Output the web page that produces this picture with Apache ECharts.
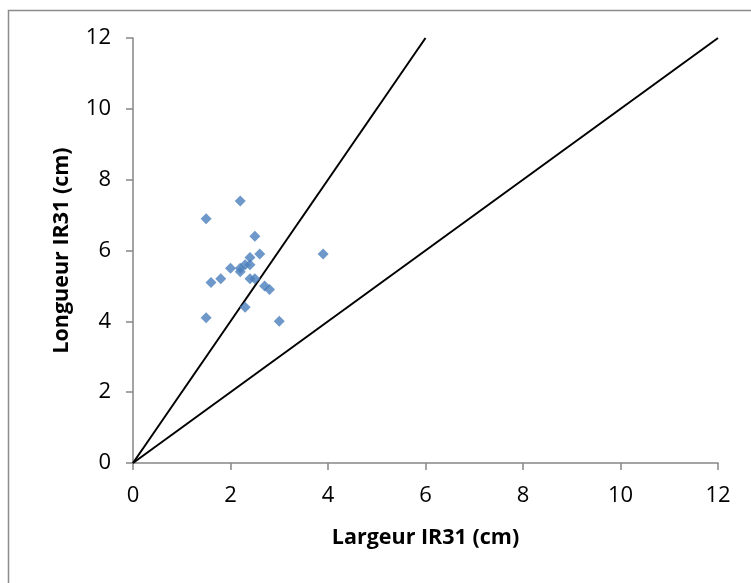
<!DOCTYPE html>
<html>
<head>
<meta charset="utf-8">
<script src="https://cdn.jsdelivr.net/npm/echarts@6/dist/echarts.min.js"></script>
<style>
  html, body { margin: 0; padding: 0; background: #fff; }
  #chart { width: 751px; height: 583px; }
</style>
</head>
<body>
<div id="chart"></div>
<script>
// Measurements of IR31: width (x) and length (y), in cm
const largeur  = [1.5, 2.2, 2.5, 2.6, 3.9, 2.4, 2.0, 2.3, 2.4, 2.2, 2.2, 1.8, 1.6, 2.4, 2.5, 2.7, 2.8, 2.3, 1.5, 3.0];
const longueur = [6.9, 7.4, 6.4, 5.9, 5.9, 5.8, 5.5, 5.6, 5.6, 5.4, 5.5, 5.2, 5.1, 5.2, 5.2, 5.0, 4.9, 4.4, 4.1, 4.0];

// Reference lines: L = 2·l and L = l
const ligneDouble = [[0, 0], [6, 12]];
const ligneEgale  = [[0, 0], [12, 12]];

const axisTicks = [0, 2, 4, 6, 8, 10, 12];

const points = largeur.map((x, i) => [x, longueur[i]]);
const FONT = 'Open Sans';
const axisGray = '#868686';

const chart = echarts.init(document.getElementById('chart'));
chart.setOption({
  animation: false,
  backgroundColor: '#ffffff',
  graphic: [{
    type: 'rect',
    shape: { x: 8.5, y: 10.5, width: 800, height: 650 },
    style: { fill: 'none', stroke: '#8c8c8c', lineWidth: 1.5 },
    silent: true
  }],
  grid: { left: 133, right: 33, top: 38, bottom: 120, containLabel: false },
  xAxis: {
    type: 'value', min: axisTicks[0], max: axisTicks[axisTicks.length - 1], interval: 2,
    name: 'Largeur IR31 (cm)', nameLocation: 'middle', nameGap: 64,
    nameTextStyle: { fontFamily: FONT, fontWeight: 'bold', fontSize: 21.5, color: '#000' },
    axisLine: { show: true, onZero: false, lineStyle: { color: axisGray, width: 1.5 } },
    axisTick: { show: true, inside: false, length: 7, lineStyle: { color: axisGray, width: 1.5 } },
    axisLabel: { margin: 22, fontFamily: FONT, fontSize: 22, color: '#000' },
    splitLine: { show: false }
  },
  yAxis: {
    type: 'value', min: axisTicks[0], max: axisTicks[axisTicks.length - 1], interval: 2,
    name: 'Longueur IR31 (cm)', nameLocation: 'middle', nameGap: 60,
    nameTextStyle: { fontFamily: FONT, fontWeight: 'bold', fontSize: 21.5, color: '#000' },
    axisLine: { show: true, onZero: false, lineStyle: { color: axisGray, width: 1.5 } },
    axisTick: { show: true, inside: false, length: 7, lineStyle: { color: axisGray, width: 1.5 } },
    axisLabel: { margin: 22, fontFamily: FONT, fontSize: 22, color: '#000' },
    splitLine: { show: false }
  },
  series: [
    {
      type: 'line', data: ligneDouble, symbol: 'none', silent: true,
      lineStyle: { color: '#000', width: 2 }, z: 2
    },
    {
      type: 'line', data: ligneEgale, symbol: 'none', silent: true,
      lineStyle: { color: '#000', width: 2 }, z: 2
    },
    {
      type: 'scatter', data: points, symbol: 'diamond', symbolSize: 11,
      itemStyle: { color: '#4a7ebb' }, z: 3
    }
  ]
});
</script>
</body>
</html>
